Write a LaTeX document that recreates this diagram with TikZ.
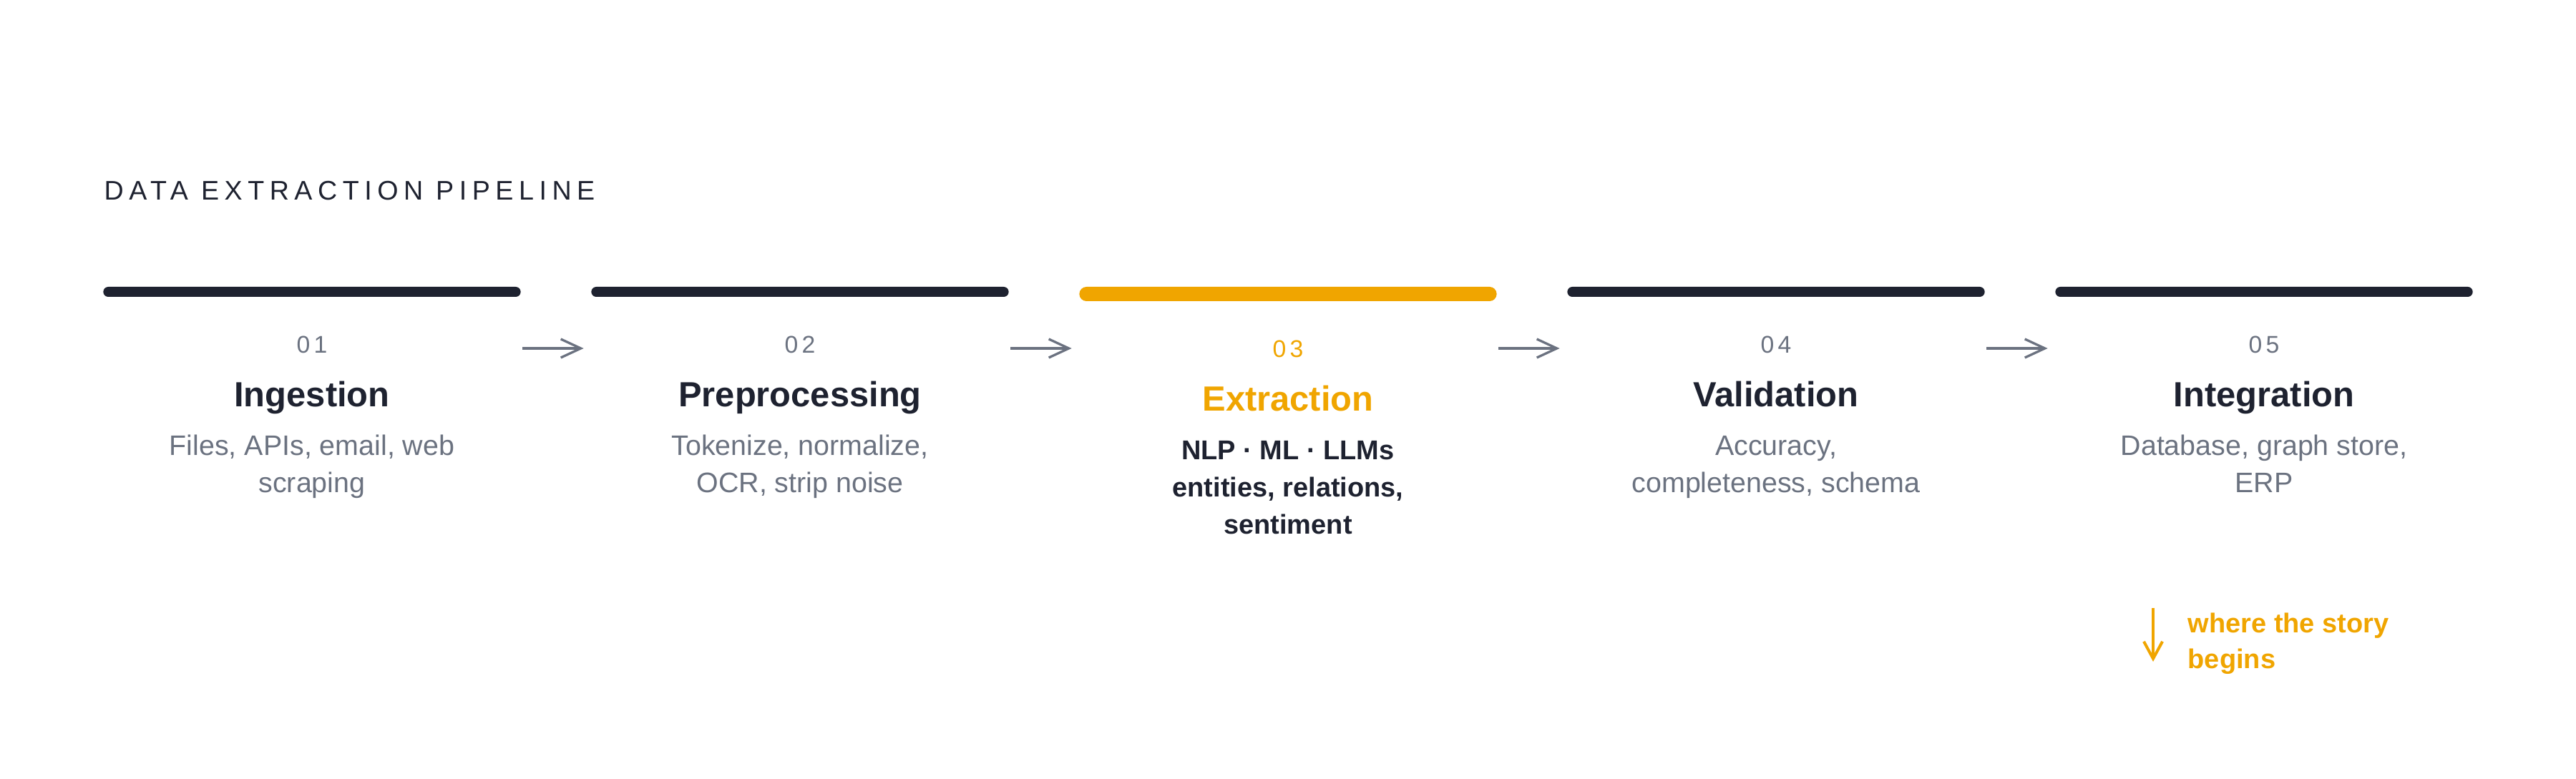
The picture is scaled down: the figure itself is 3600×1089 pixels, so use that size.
\documentclass[tikz,border=0pt]{standalone}
\usepackage{fontspec}
\setmainfont{Liberation Sans}
\newfontfamily\headfont[LetterSpace=20]{Liberation Sans}
\newfontfamily\numfont[LetterSpace=16]{Liberation Sans}
\usetikzlibrary{arrows.meta}
\definecolor{ink}{HTML}{1E2230}
\definecolor{muted}{HTML}{6B7280}
\definecolor{amber}{HTML}{F0A500}

\tikzset{
  bar/.style={fill=ink, inner sep=0pt, minimum width=5.83cm, minimum height=0.14cm, rounded corners=0.07cm},
  hotbar/.style={bar, fill=amber, minimum height=0.2cm, rounded corners=0.1cm},
  stagenum/.style={anchor=base, inner sep=0pt, text=muted, font=\numfont\fontsize{9.6}{12}\selectfont},
  stagetitle/.style={anchor=base, inner sep=0pt, text=ink, font=\bfseries\fontsize{13.9}{17}\selectfont},
  stagedesc/.style={anchor=base, inner sep=0pt, align=center, text=muted, font=\fontsize{11.2}{14.8}\selectfont},
  hotdesc/.style={stagedesc, text=ink, font=\bfseries\fontsize{10.8}{14.8}\selectfont},
  flow/.style={-{Straight Barb[length=2.8mm,width=2.6mm]}, muted, line width=0.033cm, shorten <=0.02cm, shorten >=0.1cm},
  pointer/.style={-{Straight Barb[length=2.4mm,width=2.6mm]}, amber, line width=0.04cm},
}

\begin{document}
\begin{tikzpicture}[x=0.01cm, y=-0.01cm]
  \useasboundingbox (0,0) rectangle (3600,1089);
  \node[anchor=base west, inner sep=0pt, text=ink, font=\headfont\fontsize{10.7}{13}\selectfont] (head) at (145,280) {DATA EXTRACTION PIPELINE};

  % stage bars
  \foreach \i/\x in {1/436,2/1118,4/2482,5/3164}
    \node[bar] (bar\i) at (\x,408) {};
  \node[hotbar] (bar3) at (1800,411) {};

  % arrows between stages
  \coordinate (lane) at (0,487);
  \foreach \i/\j in {1/2,2/3,3/4,4/5}
    \draw[flow] (bar\i.east |- lane) -- (bar\j.west |- lane);

  % base of a description = its last line
  \node[stagenum] (n1) at (436,494) {01};
  \node[stagetitle] (t1) at (436,569) {Ingestion};
  \node[stagedesc] (d1) at (436,689) {Files, APIs, email, web\\scraping};

  \node[stagenum] (n2) at (1118,494) {02};
  \node[stagetitle] (t2) at (1118,569) {Preprocessing};
  \node[stagedesc] (d2) at (1118,689) {Tokenize, normalize,\\OCR, strip noise};

  \node[stagenum, text=amber] (n3) at (1800,500) {03};
  \node[stagetitle, text=amber] (t3) at (1800,575) {Extraction};
  \node[hotdesc] (d3) at (1800,747) {NLP · ML · LLMs\\entities, relations,\\sentiment};

  \node[stagenum] (n4) at (2482,494) {04};
  \node[stagetitle] (t4) at (2482,569) {Validation};
  \node[stagedesc] (d4) at (2482,689) {Accuracy,\\completeness, schema};

  \node[stagenum] (n5) at (3164,494) {05};
  \node[stagetitle] (t5) at (3164,569) {Integration};
  \node[stagedesc] (d5) at (3164,689) {Database, graph store,\\ERP};

  % note under the last stage
  \node[anchor=base west, inner sep=0pt, align=left, text=amber, font=\bfseries\fontsize{10.8}{14.5}\selectfont] (story) at (3057,935) {where the story\\begins};
  \coordinate (tail) at (3009,850);
  \coordinate (tip) at (3009,925);
  \draw[pointer] (tail) -- (tip);
\end{tikzpicture}
\end{document}
